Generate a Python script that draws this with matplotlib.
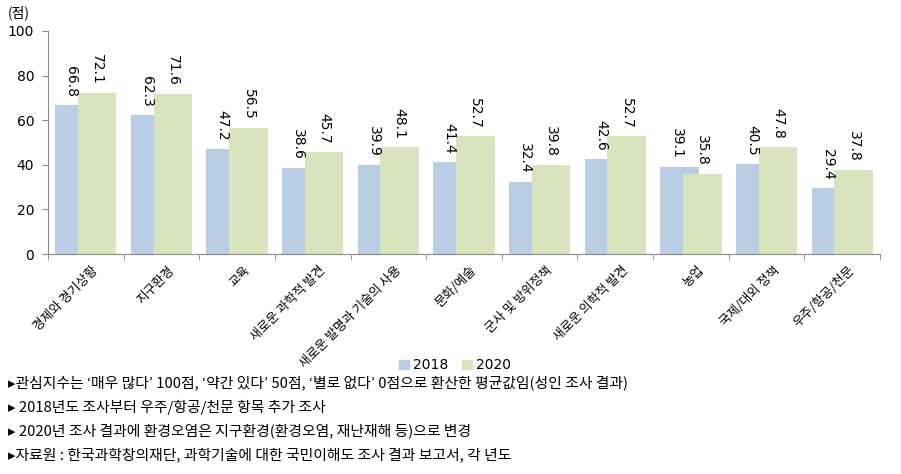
import numpy as np
import matplotlib
matplotlib.use("Agg")
import matplotlib.pyplot as plt
from matplotlib.patches import Patch

plt.rcParams['font.family'] = ['Noto Sans CJK KR', 'DejaVu Sans']

categories = ["경제와 경기상황", "지구환경", "교육", "새로운 과학적 발견", "새로운 발명과 기술의 사용",
              "문화/예술", "군사 및 방위정책", "새로운 의학적 발견", "농업", "국제/대외 정책", "우주/항공/천문"]
v2018 = [66.8, 62.3, 47.2, 38.6, 39.9, 41.4, 32.4, 42.6, 39.1, 40.5, 29.4]
v2020 = [72.1, 71.6, 56.5, 45.7, 48.1, 52.7, 39.8, 52.7, 35.8, 47.8, 37.8]
series_names = ["2018", "2020"]
yticks = [0, 20, 40, 60, 80, 100]
notes = [
    "관심지수는 ‘매우 많다’ 100점, ‘약간 있다’ 50점, ‘별로 없다’ 0점으로 환산한 평균값임(성인 조사 결과)",
    " 2018년도 조사부터 우주/항공/천문 항목 추가 조사",
    " 2020년 조사 결과에 환경오염은 지구환경(환경오염, 재난재해 등)으로 변경",
    "자료원 : 한국과학창의재단, 과학기술에 대한 국민이해도 조사 결과 보고서, 각 년도",
]

c2018 = "#B9CDE5"
c2020 = "#D7E4BD"

fig = plt.figure(figsize=(9.01, 4.74), dpi=100)
ax = fig.add_axes([0.0533, 0.4641, 0.9234, 0.4705])

x = np.arange(len(categories))
w = 0.51
off = 0.15
ax.bar(x - off, v2018, width=w, color=c2018, zorder=2)
ax.bar(x + off, v2020, width=w, color=c2020, zorder=3)

for xi, v in zip(x, v2018):
    ax.annotate(f"{v:.1f}", (xi - off - 0.04, v), xytext=(0, 6), textcoords="offset points",
                rotation=270, ha="center", va="bottom", fontsize=10, family="DejaVu Sans", zorder=4)
for xi, v in zip(x, v2020):
    ax.annotate(f"{v:.1f}", (xi + off, v), xytext=(0, 6), textcoords="offset points",
                rotation=270, ha="center", va="bottom", fontsize=10, family="DejaVu Sans", zorder=4)

ax.set_xlim(-0.5, len(categories) - 0.5)
ax.set_ylim(0, 100)
ax.set_yticks(yticks)
ax.set_yticklabels([str(t) for t in yticks], fontsize=10, family="DejaVu Sans")
ax.tick_params(axis="y", length=4, color="#888888", pad=6)

ax.set_xticks(x + 0.08)
ax.set_xticklabels(categories, rotation=45, ha="right", va="top", rotation_mode="anchor", fontsize=9.2)
ax.tick_params(axis="x", which="major", length=0, pad=7)
ax.set_xticks(np.arange(-0.5, len(categories)), minor=True)
ax.tick_params(axis="x", which="minor", length=4, color="#888888")

for s in ["top", "right"]:
    ax.spines[s].set_visible(False)
for s in ["left", "bottom"]:
    ax.spines[s].set_color("#888888")

fig.text(0.009, 0.972, "(점)", fontsize=10, va="center", ha="left")

handles = [Patch(color=c2018), Patch(color=c2020)]
fig.legend(handles, series_names, loc="center", bbox_to_anchor=(0.505, 0.229), ncol=2, frameon=False,
           handlelength=0.7, handleheight=0.7, handletextpad=0.3, columnspacing=1.0,
           prop={"family": "DejaVu Sans", "size": 10})

ys = [383, 407, 431, 455]
for yy, t in zip(ys, notes):
    fig.text(0.009, 1 - yy / 474, "▸" + t, fontsize=10.7, va="center", ha="left")

fig.savefig("out.png", dpi=100)
